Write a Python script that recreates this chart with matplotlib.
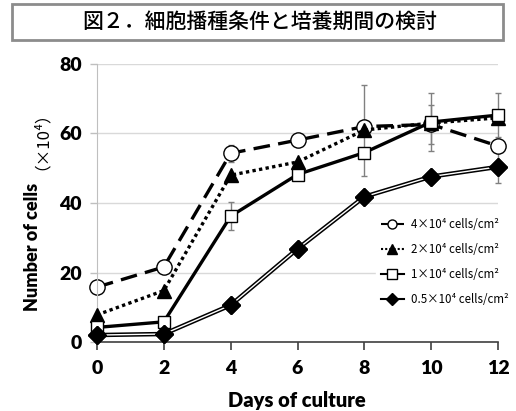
import numpy as np
import matplotlib
matplotlib.use('Agg')
import matplotlib.pyplot as plt
from matplotlib.patches import Rectangle

days = [0, 2, 4, 6, 8, 10, 12]

# cell counts (x10^4) per seeding density
c4 = [15.8, 21.6, 54.3, 58.1, 62.0, 62.6, 56.4]
c2 = [7.8, 14.8, 48.0, 51.8, 61.0, 63.0, 64.5]
c1 = [4.2, 5.8, 36.2, 48.2, 54.5, 63.3, 65.3]
c05 = [2.0, 2.3, 10.6, 26.8, 41.8, 47.6, 50.4]

e4 = [0, 0, 2.5, 0, 0, 5.6, 0]
e2 = [0, 0, 0, 0, 13.1, 0, 0]
e1 = [0, 0, 4.0, 0, 0, 8.3, 6.4]
e05 = [0, 0, 0, 0.8, 0, 0, 4.6]

labels = ['4×10⁴ cells/cm²', '2×10⁴ cells/cm²', '1×10⁴ cells/cm²', '0.5×10⁴ cells/cm²']
title = '図２．細胞播種条件と培養期間の検討'

fig = plt.figure(figsize=(5.16, 4.11), dpi=100)
ax = fig.add_axes([97/516, 1-342/411, 401/516, 278/411])

ebkw = dict(fmt='none', ecolor='#808080', elinewidth=1, capsize=2.5, capthick=1, zorder=1.5, clip_on=False)
for y, e in [(c4, e4), (c2, e2), (c1, e1), (c05, e05)]:
    ax.errorbar(days, y, yerr=e, **ebkw)

h1, = ax.plot(days, c4, color='black', lw=2.4, dashes=(5, 2.5), marker='o', ms=11,
              mfc='white', mec='black', mew=1, zorder=2, clip_on=False, label=labels[0])
h2, = ax.plot(days, c2, color='black', lw=2.4, dashes=(1, 1), marker='^', ms=10,
              mfc='black', mec='black', zorder=3, clip_on=False, label=labels[1])
h3, = ax.plot(days, c1, color='black', lw=2.4, marker='s', ms=9,
              mfc='white', mec='black', mew=1, zorder=4, clip_on=False, label=labels[2])
h4, = ax.plot(days, c05, color='black', lw=3.2, marker='D', ms=9,
              mfc='black', mec='black', zorder=5, clip_on=False, label=labels[3])
ax.plot(days, c05, color='white', lw=1.0, zorder=5.1, clip_on=False)
ax.plot(days, c05, 'D', color='black', ms=9, zorder=5.2, clip_on=False)

ax.set_xlim(0, 12)
ax.set_ylim(0, 80)
ax.set_xticks(days)
ax.set_yticks([0, 20, 40, 60, 80])
ax.grid(axis='y', color='#d9d9d9', lw=1)
ax.set_axisbelow(True)
for s in ['top', 'right']:
    ax.spines[s].set_visible(False)
ax.spines['left'].set_color('#bfbfbf')
ax.spines['bottom'].set_color('#404040')
ax.spines['bottom'].set_linewidth(1.2)
ax.tick_params(axis='x', direction='out', length=6, width=1.2, color='#404040', pad=7)
ax.tick_params(axis='y', direction='out', length=5, width=1, color='#bfbfbf', pad=6)
for lab in ax.get_xticklabels() + ax.get_yticklabels():
    lab.set_fontfamily('Lato')
    lab.set_fontweight('heavy')
    lab.set_fontsize(14)

fig.text(297/516, 1-400/411, 'Days of culture', family='Lato', weight='heavy',
         fontsize=14.5, ha='center', va='center')
fig.text(33/516, 1-247/411, 'Number of cells', family='Lato', weight='heavy',
         fontsize=13, ha='center', va='center', rotation=90)
fig.text(33/516, 1-132/411, '（×10⁴）', family=['Noto Sans CJK JP', 'DejaVu Sans'],
         fontsize=12, ha='center', va='center', rotation=90)

leg = fig.legend(handles=[h1, h2, h3, h4], loc='upper left',
                 bbox_to_anchor=(376/516, 1-213/411), frameon=True, fancybox=False,
                 edgecolor='white', facecolor='white', framealpha=1,
                 handlelength=2.0, handletextpad=0.6, labelspacing=1.05,
                 borderpad=0.4, borderaxespad=0,
                 prop={'family': ['Noto Sans CJK JP', 'DejaVu Sans'], 'size': 8.3})
for line in leg.get_lines():
    line.set_markersize(6.5)
    line.set_linewidth(1.5)

fig.patches.append(Rectangle((12/516, 1-40/411), 491/516, 36/411, transform=fig.transFigure,
                             facecolor='white', edgecolor='#8c8c8c', lw=2, figure=fig))
fig.text(260/516, 1-22/411, title, family=['Noto Sans CJK JP', 'DejaVu Sans'],
         weight='medium', fontsize=15, ha='center', va='center')

fig.savefig('out.png', dpi=100)
